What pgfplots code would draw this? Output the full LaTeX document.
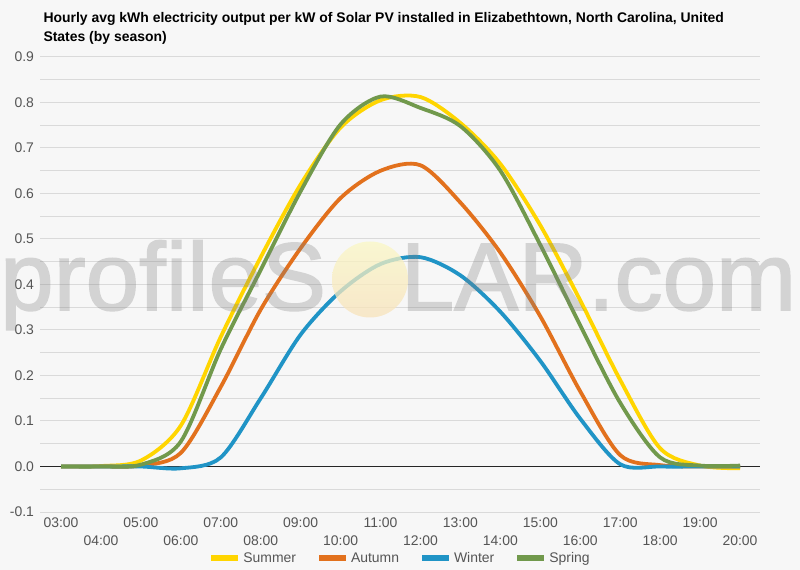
\documentclass[border=0pt]{standalone}
\usepackage{fontspec}
\setmainfont{Liberation Sans}
\newfontfamily\wmfont[FakeBold=1.6]{Liberation Sans}
\usepackage{pgfplots}
\usepackage{pgfplotstable}
\pgfplotsset{compat=1.18}

\definecolor{bgc}{HTML}{F7F7F7}
\definecolor{gridc}{HTML}{DADADA}
\definecolor{tickc}{HTML}{555555}
\definecolor{summer}{HTML}{FFD500}
\definecolor{autumn}{HTML}{E2711D}
\definecolor{winter}{HTML}{2094C6}
\definecolor{spring}{HTML}{71994C}

% hourly average output (kWh per kW installed), by season
\pgfplotstableread{
h  summer autumn winter spring
3   0.000  0.000  0.000  0.000
4   0.001  0.000  0.000  0.000
5   0.013  0.002  0.000  0.004
6   0.090  0.030 -0.004  0.055
7   0.285  0.175  0.020  0.258
8   0.460  0.345  0.150  0.432
9   0.620  0.480  0.290  0.605
10  0.745  0.590  0.385  0.752
11  0.805  0.650  0.445  0.813
12  0.812  0.662  0.460  0.788
13  0.755  0.580  0.420  0.748
14  0.665  0.470  0.340  0.650
15  0.530  0.330  0.232  0.487
16  0.365  0.165  0.105  0.310
17  0.190  0.025  0.005  0.140
18  0.040  0.003  0.000  0.020
19  0.002  0.000  0.000  0.002
20 -0.004  0.000  0.000  0.002
}\datatable

\begin{document}
\begin{tikzpicture}
\fill[bgc] (0,0) rectangle (800bp,570bp);

\node[anchor=base west, font=\fontsize{14}{16}\selectfont\bfseries] at (40bp,547bp)
  {Hourly avg kWh electricity output per kW of Solar PV installed in Elizabethtown, North Carolina, United};
\node[anchor=base west, font=\fontsize{14}{16}\selectfont\bfseries] at (40bp,528bp)
  {States (by season)};

\begin{axis}[
  at={(40bp,58bp)}, anchor=south west,
  scale only axis, width=720bp, height=455bp,
  xmin=2.474, xmax=20.5, ymin=-0.1, ymax=0.9,
  axis line style={draw=none},
  major tick length=0pt, minor tick length=0pt,
  ytick={-0.1,0,0.1,0.2,0.3,0.4,0.5,0.6,0.7,0.8,0.9},
  minor ytick={-0.05,0.05,0.15,0.25,0.35,0.45,0.55,0.65,0.75,0.85},
  ymajorgrids, yminorgrids,
  major grid style={gridc, line width=1bp},
  minor grid style={gridc, line width=1bp},
  extra y ticks={0},
  extra y tick labels={},
  extra y tick style={grid=major, major grid style={black!85, line width=1bp}},
  xtick={3,5,7,9,11,13,15,17,19},
  xticklabels={03:00,05:00,07:00,09:00,11:00,13:00,15:00,17:00,19:00},
  extra x ticks={4,6,8,10,12,14,16,18,20},
  extra x tick labels={04:00,06:00,08:00,10:00,12:00,14:00,16:00,18:00,20:00},
  extra x tick style={xmajorgrids=false, tick label style={yshift=-18bp}},
  tick label style={font=\fontsize{14}{16}\selectfont, text=tickc},
  xticklabel style={yshift=-2bp},
  yticklabel style={xshift=-2.5bp,
    /pgf/number format/fixed, /pgf/number format/fixed zerofill,
    /pgf/number format/precision=1},
  /pgf/number format/assume math mode=true,
  legend columns=4,
  legend style={at={(0.5,-0.101)}, anchor=center, draw=none, fill=none,
    font=\fontsize{14}{16}\selectfont, text=tickc,
    /tikz/every even column/.append style={column sep=18bp}},
  legend image code/.code={\draw[#1, line width=6bp, line cap=butt] (0bp,0bp) -- (27bp,0bp);},
  every axis plot/.append style={line width=3.8bp, smooth, no marks, line join=round},
]
\addplot[summer] table[x=h, y=summer] {\datatable};
\addlegendentry{Summer}
\addplot[autumn] table[x=h, y=autumn] {\datatable};
\addlegendentry{Autumn}
\addplot[winter] table[x=h, y=winter] {\datatable};
\addlegendentry{Winter}
\addplot[spring] table[x=h, y=spring] {\datatable};
\addlegendentry{Spring}
\end{axis}

% site watermark, composited as one translucent layer
\begin{scope}[transparency group, opacity=0.3]
\node[anchor=base west, inner sep=0pt, font=\wmfont\fontsize{96.5}{96}\selectfont, text=gray]
  at (0bp,260bp) {profileS\phantom{O}LAR.com};
\end{scope}
\shade[top color={rgb,255:red,250;green,247;blue,196}, bottom color={rgb,255:red,248;green,226;blue,186}, opacity=0.75]
  (370bp,290.5bp) circle (38bp);

\pgfresetboundingbox
\path[use as bounding box] (0,0) rectangle (800bp,570bp);
\end{tikzpicture}
\end{document}
